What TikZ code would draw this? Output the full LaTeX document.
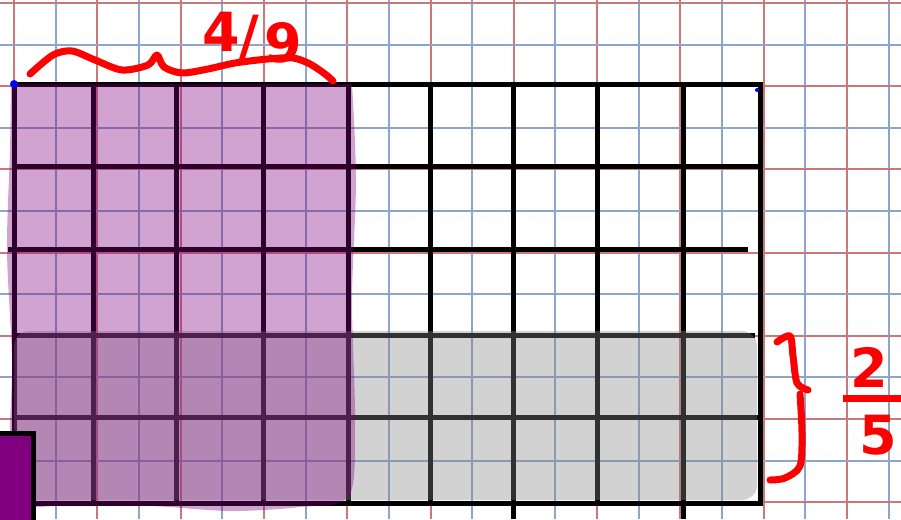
\documentclass[tikz,border=0pt]{standalone}
\usepackage{fontspec}
\newfontfamily\hand{DejaVu Sans}
\definecolor{gridred}{RGB}{205,120,120}
\definecolor{gridblue}{RGB}{140,165,200}
\definecolor{mypurple}{RGB}{128,0,128}
\definecolor{penred}{RGB}{255,0,0}
\definecolor{mygray}{RGB}{135,135,135}
\begin{document}
\begin{tikzpicture}[x=1pt,y=-1pt,
  gridr/.style={gridred,line width=2pt},
  gridb/.style={gridblue,line width=2pt},
  bold/.style={black,line width=5pt},
  pen/.style={penred,line width=7pt,line cap=round,line join=round},
  digit/.style={text=penred,font=\hand\bfseries\fontsize{54}{54}\selectfont,inner sep=0pt}]
\useasboundingbox (0,0) rectangle (901,519);
\fill[white] (0,0) rectangle (901,519);
% graph paper
\foreach \i in {0,...,10} {
  \draw[gridb] ({55.65+83.3*\i},0) -- ({55.65+83.3*\i},519);
  \draw[gridr] ({14+83.3*\i},0) -- ({14+83.3*\i},519);
}
\foreach \i in {0,...,5} {
  \draw[gridb] (0,{44.6+83.2*\i}) -- (901,{44.6+83.2*\i});
}
\foreach \i in {0,...,6} {
  \draw[gridr] (0,{3+83.2*\i}) -- (901,{3+83.2*\i});
}
% black grid of the model
\draw[bold] (14,84) rectangle (760,503);
\draw[bold] (14,166) -- (760,166);
\draw[bold] (8,249) -- (748,249);
\draw[bold] (14,335) -- (755,335);
\draw[bold] (14,417) -- (760,417);
\foreach \x in {93,176,263,348,430,597} { \draw[bold] (\x,84) -- (\x,503); }
\foreach \x in {513,683} { \draw[bold] (\x,84) -- (\x,519); }
% gray shading (2/5)
\fill[mygray, fill opacity=0.37, rounded corners=15pt] (14,331) rectangle (757,500);
% purple shading (4/9)
\fill[mypurple, fill opacity=0.36] (11,84) -- (352,84) -- plot[smooth] coordinates {(352,84) (356,180) (352,300) (355,420) (349,496) (300,507) (230,511) (150,506) (60,506) (16,502) (10,440) (12,360) (7,250) (10,150) (11,84)} -- cycle;
% small purple square
\filldraw[fill=mypurple, draw=black, line width=5pt] (-5,433) rectangle (33,525);
% blue dots
\fill[blue] (14,84) circle (4);
\fill[blue] (757,90) circle (2);
% red annotations
\draw[pen] plot[smooth] coordinates {(30,74) (53,55) (72,51) (95,60) (122,70) (148,65) (157,55) (164,67) (182,73) (208,69) (235,63) (268,59) (293,58) (310,64) (325,74) (333,81)};
\node[digit] (four) at (221,32) {4};
\node[digit] (slash) at (249,37) {/};
\node[digit] (nine) at (283,43) {9};
\draw[pen] plot[smooth] coordinates {(777,342) (790,336) (793,356) (797,383) (808,390)};
\draw[pen] plot[smooth] coordinates {(800,394) (802,433) (800,466) (785,478) (770,480)};
\draw[pen, line cap=butt] (843,398) -- (905,398);
\node[digit] (two) at (869,367) {2};
\node[digit] (five) at (878,435) {5};
\end{tikzpicture}
\end{document}
